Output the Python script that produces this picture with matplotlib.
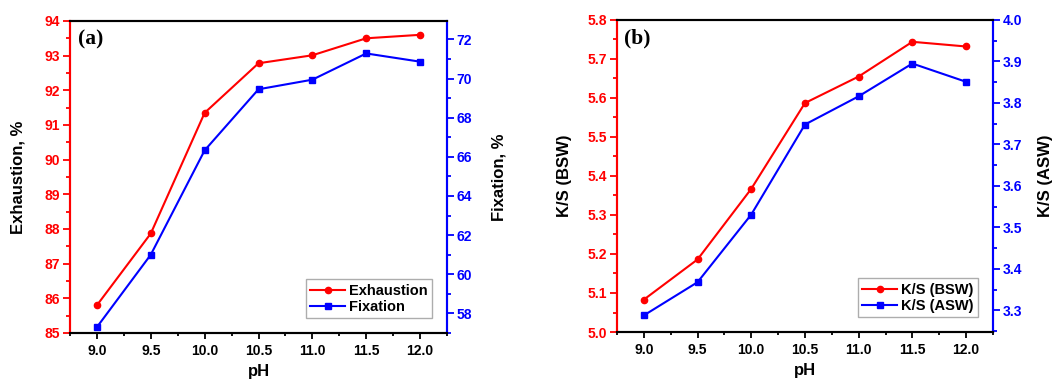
import matplotlib
matplotlib.use("Agg")
import matplotlib.pyplot as plt
from matplotlib.ticker import MultipleLocator, FormatStrFormatter

# data
ph = [9.0, 9.5, 10.0, 10.5, 11.0, 11.5, 12.0]
exhaustion = [85.8, 87.87, 91.35, 92.78, 93.01, 93.5, 93.6]
fixation = [57.3, 61.0, 66.33, 69.45, 69.94, 71.28, 70.86]
ks_bsw = [5.083, 5.186, 5.367, 5.587, 5.655, 5.744, 5.732]
ks_asw = [3.288, 3.368, 3.531, 3.748, 3.816, 3.895, 3.851]

plt.rcParams['font.family'] = ['Liberation Sans', 'DejaVu Sans']
plt.rcParams['font.weight'] = 'bold'

RED = '#ff0000'
BLUE = '#0000ff'

fig = plt.figure(figsize=(10.59, 3.81), dpi=100)


def panel(rect, y1, y2, lab1, lab2, ylabel1, ylabel2, ylim1, ylim2,
          step1, step2, fmt1, fmt2, tag, pos1, pos2):
    ax = fig.add_axes(rect)
    ax2 = ax.twinx()
    l1, = ax.plot(ph, y1, color=RED, lw=1.5, marker='o', ms=4.5, label=lab1)
    l2, = ax2.plot(ph, y2, color=BLUE, lw=1.5, marker='s', ms=4.5, label=lab2)

    ax.set_xlim(8.75, 12.25)
    ax.set_ylim(*ylim1)
    ax2.set_ylim(*ylim2)
    ax.xaxis.set_major_locator(MultipleLocator(0.5))
    ax.xaxis.set_minor_locator(MultipleLocator(0.25))
    ax.yaxis.set_major_locator(MultipleLocator(step1))
    ax.yaxis.set_minor_locator(MultipleLocator(step1 / 2))
    ax2.yaxis.set_major_locator(MultipleLocator(step2))
    ax2.yaxis.set_minor_locator(MultipleLocator(step2 / 2))
    ax.xaxis.set_major_formatter(FormatStrFormatter('%.1f'))
    ax.yaxis.set_major_formatter(FormatStrFormatter(fmt1))
    ax2.yaxis.set_major_formatter(FormatStrFormatter(fmt2))

    for a in (ax, ax2):
        for s in a.spines.values():
            s.set_linewidth(1.5)
        a.spines['left'].set_color(RED)
        a.spines['right'].set_color(BLUE)

    ax.tick_params(axis='x', which='major', direction='out', length=4,
                   width=1.3, labelsize=10, pad=4)
    ax.tick_params(axis='x', which='minor', direction='out', length=2.5, width=1.3)
    ax.tick_params(axis='y', which='major', direction='out', length=5,
                   width=1.3, colors=RED, labelsize=10, pad=2)
    ax.tick_params(axis='y', which='minor', direction='out', length=3,
                   width=1.3, colors=RED)
    ax2.tick_params(axis='y', which='major', direction='out', length=5,
                    width=1.3, colors=BLUE, labelsize=10, pad=2)
    ax2.tick_params(axis='y', which='minor', direction='out', length=3,
                    width=1.3, colors=BLUE)

    # x label placed just above the bottom edge
    ax.set_xlabel('pH', fontsize=12, fontweight='bold', va='top')
    ax.xaxis.set_label_coords(0.5, -0.10)
    ax.set_ylabel(ylabel1, fontsize=12, fontweight='bold')
    ax2.set_ylabel(ylabel2, fontsize=12, fontweight='bold', rotation=90)
    ax.yaxis.set_label_coords(pos1, 0.5)
    ax2.yaxis.set_label_coords(pos2, 0.5)

    ax.text(0.02, 0.94, tag, transform=ax.transAxes, fontsize=15.5,
            fontweight='bold', family='Liberation Serif', va='center')

    leg = ax.legend(handles=[l1, l2], loc='lower right', fontsize=10.5,
                    frameon=True, fancybox=False, handlelength=2.4,
                    borderpad=0.3, labelspacing=0.15, handletextpad=0.3,
                    borderaxespad=1.0)
    leg.get_frame().set_edgecolor('#999999')
    leg.get_frame().set_linewidth(1.0)
    return ax, ax2


panel([0.0661, 0.126, 0.356, 0.819], exhaustion, fixation,
      'Exhaustion', 'Fixation', 'Exhaustion, %', 'Fixation, %',
      (85, 94), (57, 72.94), 1, 2, '%d', '%d', '(a)', -0.119, 1.119)
panel([0.5826, 0.1286, 0.355, 0.819], ks_bsw, ks_asw,
      'K/S (BSW)', 'K/S (ASW)', 'K/S (BSW)', 'K/S (ASW)',
      (5.0, 5.8), (3.248, 4.0), 0.1, 0.1, '%.1f', '%.1f', '(b)',
      -0.1197, 1.12)

fig.savefig('out.png', dpi=100)
